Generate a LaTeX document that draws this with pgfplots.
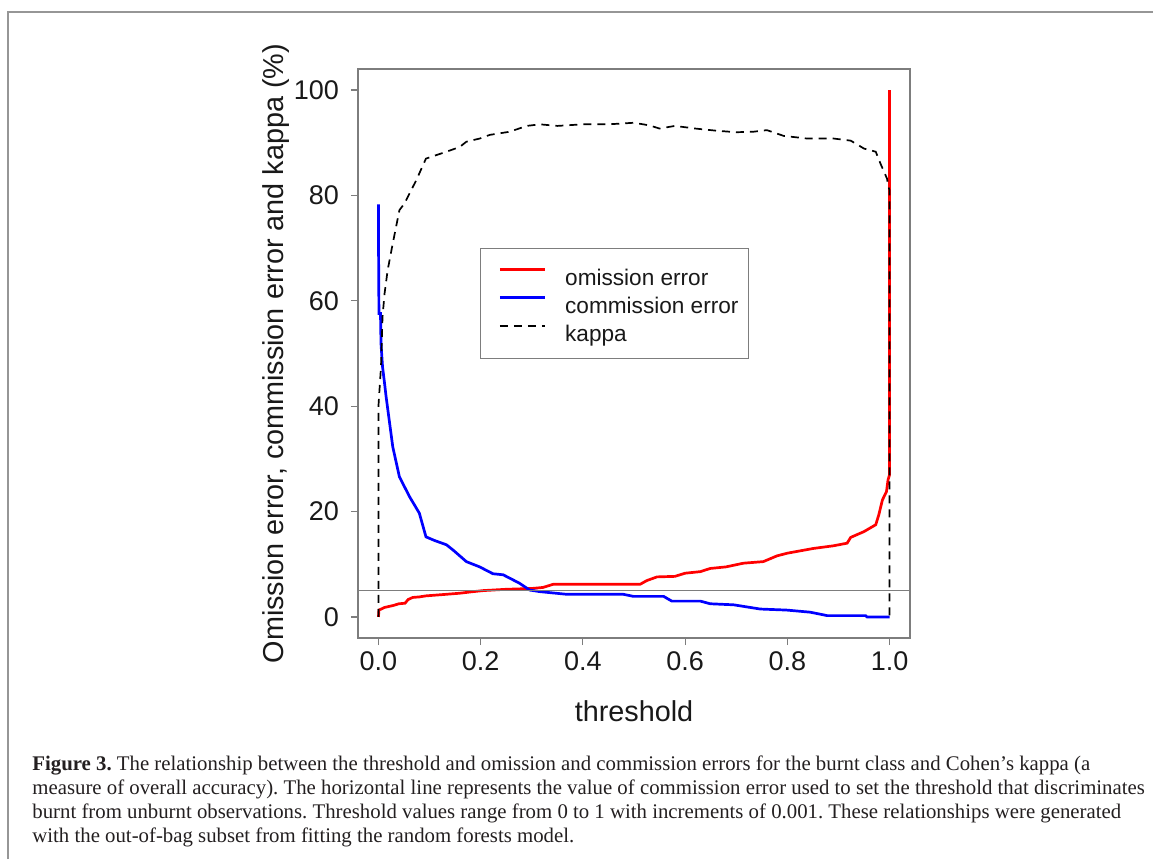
\documentclass[border=0pt]{standalone}
\usepackage{fontspec}
\setmainfont{Liberation Serif}
\newfontfamily\arial{Liberation Sans}
\usepackage{pgfplots}
\usepackage{pgfplotstable}
\pgfplotsset{compat=1.18}
\definecolor{rred}{RGB}{255,0,0}
\definecolor{rblue}{RGB}{0,0,255}
\definecolor{framegray}{RGB}{150,150,150}
\definecolor{axgray}{RGB}{125,125,125}
\definecolor{captext}{RGB}{35,31,32}

% omission error (%)
\pgfplotstableread{
t v
0 0
0.001 1.3
0.012 1.8
0.03 2.2
0.04 2.5
0.052 2.6
0.058 3.3
0.067 3.7
0.08 3.8
0.093 4.0
0.12 4.2
0.159 4.5
0.185 4.8
0.205 5.0
0.25 5.25
0.30 5.4
0.322 5.6
0.342 6.2
0.433 6.2
0.512 6.2
0.525 6.9
0.545 7.6
0.58 7.7
0.60 8.3
0.63 8.6
0.649 9.2
0.68 9.5
0.714 10.2
0.753 10.5
0.78 11.6
0.80 12.1
0.851 13.0
0.89 13.5
0.917 14.0
0.924 15.1
0.95 16.2
0.973 17.5
0.979 19.4
0.986 22.2
0.994 23.8
0.997 26
1.0 27
1.0 100
}\omission

% commission error (%)
\pgfplotstableread{
t v
0 78.3
0 73.1
0.001 57.6
0.004 57.6
0.005 51.9
0.008 47.5
0.012 44.3
0.015 41.8
0.028 32.3
0.041 26.6
0.061 22.8
0.08 19.7
0.093 15.2
0.11 14.5
0.133 13.7
0.146 12.7
0.172 10.5
0.198 9.5
0.224 8.2
0.244 8.0
0.276 6.4
0.296 5.1
0.316 4.8
0.368 4.3
0.433 4.3
0.479 4.3
0.499 3.9
0.558 3.9
0.574 3.0
0.63 3.0
0.649 2.5
0.695 2.3
0.747 1.5
0.799 1.3
0.845 0.9
0.878 0.25
0.953 0.25
0.956 0.0
1.0 0.0
}\commission

% kappa (%)
\pgfplotstableread{
t v
0 0
0 40
0.005 47.5
0.008 57
0.012 61.4
0.018 65.8
0.028 70.9
0.041 77.2
0.051 78.5
0.074 82.9
0.093 87.0
0.133 88.3
0.159 89.2
0.172 90.2
0.198 90.8
0.218 91.5
0.257 92.1
0.29 93.2
0.316 93.5
0.35 93.2
0.40 93.5
0.45 93.5
0.50 93.8
0.53 93.3
0.55 92.7
0.58 93.2
0.62 92.7
0.66 92.3
0.70 92.0
0.734 92.1
0.76 92.4
0.793 91.3
0.839 90.8
0.891 90.8
0.924 90.4
0.95 88.9
0.973 88.3
0.982 86.1
0.995 83.2
0.998 81.6
1.0 81.0
1.0 0
}\kappa

\begin{document}
\begin{tikzpicture}
\useasboundingbox (0pt,0pt) rectangle (576.5pt,-429.5pt);
\draw[framegray, line width=0.9pt] (4pt,-429.5pt) -- (4pt,-6pt) -- (576.5pt,-6pt);

\begin{axis}[
  at={(179pt,-34.5pt)}, anchor=north west,
  scale only axis, width=276pt, height=284.5pt,
  xmin=-0.04, xmax=1.04, ymin=-4, ymax=104,
  xtick={0,0.2,0.4,0.6,0.8,1}, ytick={0,20,40,60,80,100},
  xticklabel style={/pgf/number format/.cd, fixed, fixed zerofill, precision=1},
  yticklabel style={xshift=-2.5pt},
  /pgf/number format/assume math mode=true,
  tick label style={font=\arial\fontsize{13.5}{14}\selectfont, black!90},
  axis line style={axgray, line width=0.6pt},
  tick style={axgray, line width=0.6pt},
  tick align=outside, major tick length=3.5pt,
  xtick pos=left, ytick pos=left,
  xlabel={threshold},
  ylabel={Omission error, commission error and kappa (\%)},
  label style={font=\arial\fontsize{14.4}{15}\selectfont, black!90},
  xlabel style={at={(axis description cs:0.5,-0.146)}, anchor=base},
  ylabel style={at={(axis description cs:-0.149,0.5)}, anchor=center},
  legend cell align=left,
  legend image code/.code={\draw[#1] (9pt,3pt) -- (31.5pt,3pt); \path (0pt,0pt) (41pt,0pt);},
  legend style={at={(0.221,0.685)}, anchor=north west, draw=axgray, line width=0.5pt,
    font=\arial\fontsize{11.3}{13}\selectfont, text=black!90,
    inner xsep=0pt, inner ysep=8pt, row sep=3pt, column sep=0pt,
    nodes={inner xsep=0pt, inner ysep=0pt, text height=10.5pt, text depth=0.5pt}},
]
\addplot[rred, line width=1.35pt] table[x=t, y=v] {\omission};
\addlegendentry{omission error}
\addplot[rblue, line width=1.35pt] table[x=t, y=v] {\commission};
\addlegendentry{commission error\hspace*{5pt}}
\addplot[black, line width=0.85pt, dash pattern=on 4pt off 3pt] table[x=t, y=v] {\kappa};
\addlegendentry{kappa}
\addplot[axgray, line width=0.65pt, forget plot] coordinates {(-0.04,5) (1.04,5)};
\end{axis}

% the base anchor of a multi-line node is the baseline of its last line
\node[anchor=base west, align=left, inner sep=0pt, text=captext,
  font=\fontsize{10.4}{12}\selectfont\frenchspacing] at (16pt,-421pt)
  {\textbf{Figure 3.} The relationship between the threshold and omission and commission errors for the burnt class and Cohen’s kappa (a\\
  measure of overall accuracy). The horizontal line represents the value of commission error used to set the threshold that discriminates\\
  burnt from unburnt observations. Threshold values range from 0 to 1 with increments of 0.001. These relationships were generated\\
  with the out-of-bag subset from fitting the random forests model.};
\end{tikzpicture}
\end{document}
